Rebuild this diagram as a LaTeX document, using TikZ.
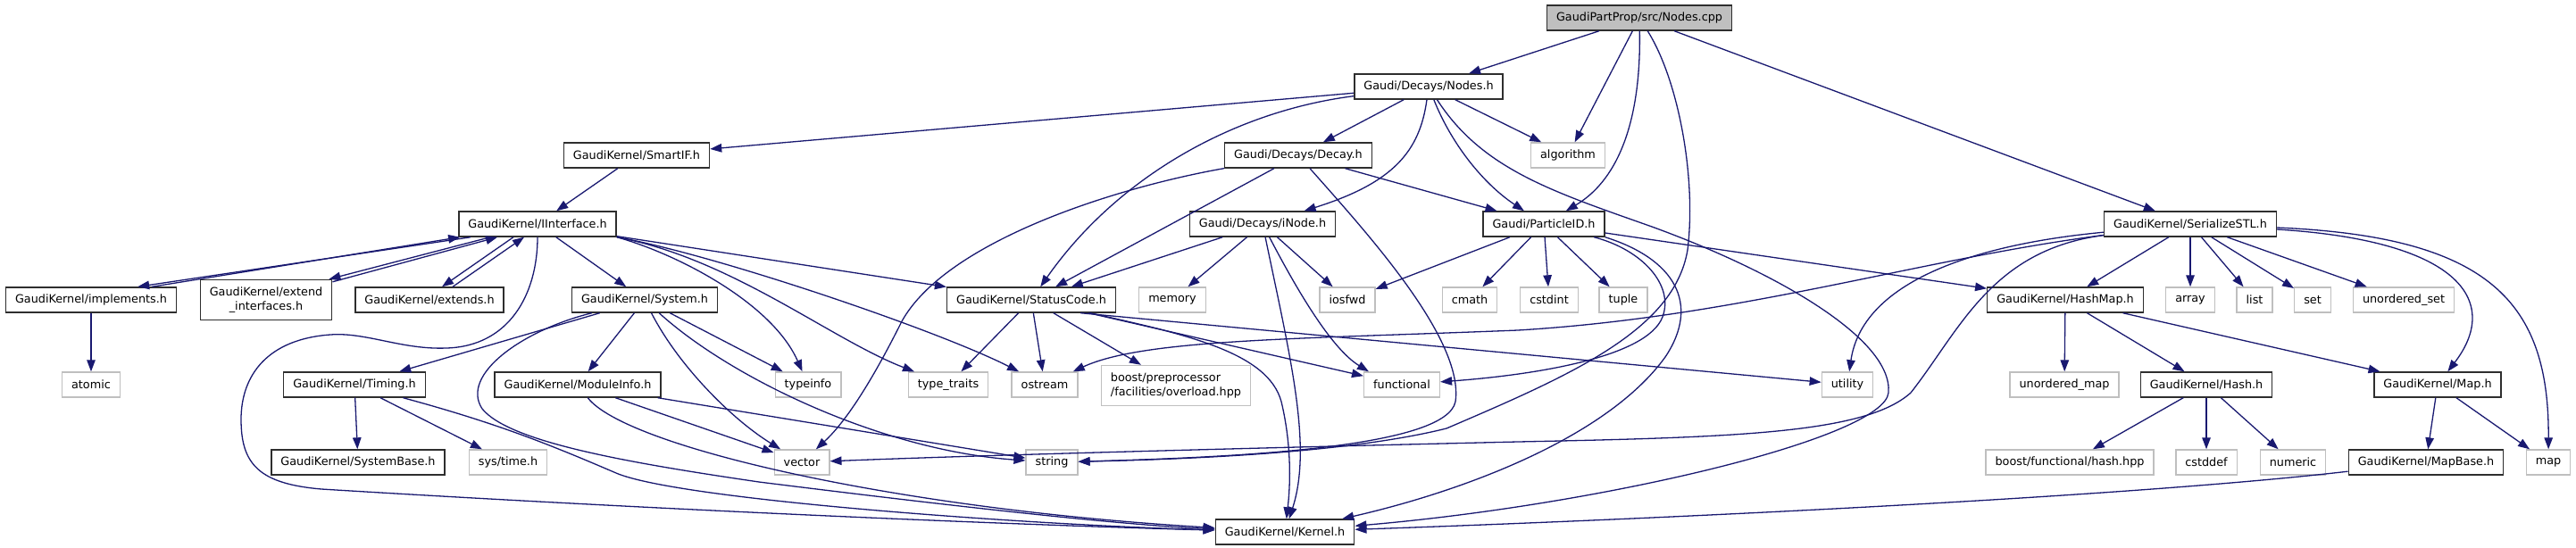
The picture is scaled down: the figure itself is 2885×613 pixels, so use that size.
\documentclass[tikz,border=0pt]{standalone}
\usepackage{fontspec}
\newfontfamily\dv{DejaVu Sans}
\usetikzlibrary{arrows.meta}
\definecolor{edgec}{HTML}{191970}
\definecolor{extc}{HTML}{BFBFBF}
\definecolor{docc}{HTML}{2E2E2E}
\tikzset{
  docbox/.style={draw=docc, line width=1.4pt, fill=white, minimum height=28pt,
    inner xsep=10.5pt, inner ysep=2pt, font={\dv\fontsize{12.8pt}{16.5pt}\selectfont}},
  extbox/.style={docbox, draw=extc},
  rootbox/.style={docbox, fill=extc},
  arr/.style={draw=edgec, line width=1.3pt, -{Triangle[length=13pt,width=9.5pt]}},
}
\begin{document}
\begin{tikzpicture}[x=1pt,y=-1pt]
\useasboundingbox (0,0) rectangle (2885,613);
% ---------------- nodes ----------------
\node[rootbox] (cpp) at (1836,20) {GaudiPartProp/src/Nodes.cpp};
\node[docbox] (nodesh) at (1600,97) {Gaudi/Decays/Nodes.h};
\node[docbox] (smartif) at (713,174) {GaudiKernel/SmartIF.h};
\node[docbox] (decay) at (1454,174) {Gaudi/Decays/Decay.h};
\node[extbox] (algorithm) at (1756,174) {algorithm};
\node[docbox] (iinterface) at (602,251) {GaudiKernel/IInterface.h};
\node[docbox] (inode) at (1414,251) {Gaudi/Decays/iNode.h};
\node[docbox] (particleid) at (1729,251) {Gaudi/ParticleID.h};
\node[docbox] (serialize) at (2453,251) {GaudiKernel/SerializeSTL.h};
\node[docbox] (implements) at (102,336) {GaudiKernel/implements.h};
\node[docbox, align=center, minimum height=45pt] (extendif) at (298,336) {GaudiKernel/extend\\\_interfaces.h};
\node[docbox] (extends) at (481,336) {GaudiKernel/extends.h};
\node[docbox] (system) at (722,336) {GaudiKernel/System.h};
\node[docbox] (statuscode) at (1155,336) {GaudiKernel/StatusCode.h};
\node[extbox] (memory) at (1313,336) {memory};
\node[extbox] (iosfwd) at (1509,336) {iosfwd};
\node[extbox] (cmath) at (1646,336) {cmath};
\node[extbox] (cstdint) at (1735,336) {cstdint};
\node[extbox] (tuple) at (1818,336) {tuple};
\node[docbox] (hashmap) at (2313,336) {GaudiKernel/HashMap.h};
\node[extbox] (array) at (2453,336) {array};
\node[extbox] (list) at (2525,336) {list};
\node[extbox] (set) at (2590,336) {set};
\node[extbox] (unorderedset) at (2692,336) {unordered\_set};
\node[extbox] (atomic) at (102,431) {atomic};
\node[docbox] (timing) at (397,431) {GaudiKernel/Timing.h};
\node[docbox] (moduleinfo) at (647,431) {GaudiKernel/ModuleInfo.h};
\node[extbox] (typeinfo) at (905,431) {typeinfo};
\node[extbox] (typetraits) at (1062,431) {type\_traits};
\node[extbox] (ostream) at (1170,431) {ostream};
\node[extbox, align=left, minimum height=45pt] (boostpp) at (1317,432) {boost/preprocessor\\/facilities/overload.hpp};
\node[extbox] (functional) at (1570,431) {functional};
\node[extbox] (utility) at (2069,431) {utility};
\node[extbox] (unorderedmap) at (2312,431) {unordered\_map};
\node[docbox] (hash) at (2471,431) {GaudiKernel/Hash.h};
\node[docbox] (maph) at (2730,431) {GaudiKernel/Map.h};
\node[docbox] (systembase) at (401,518) {GaudiKernel/SystemBase.h};
\node[extbox] (systime) at (569,518) {sys/time.h};
\node[extbox] (vector) at (898,518) {vector};
\node[extbox] (string) at (1178,518) {string};
\node[extbox] (boostfh) at (2318,518) {boost/functional/hash.hpp};
\node[extbox] (cstddef) at (2471,518) {cstddef};
\node[extbox] (numeric) at (2568,518) {numeric};
\node[docbox] (mapbase) at (2717,518) {GaudiKernel/MapBase.h};
\node[extbox] (map) at (2854,518) {map};
\node[docbox] (kernel) at (1439,596) {GaudiKernel/Kernel.h};
% ---------------- edges ----------------
% Nodes.cpp
\draw[arr] (cpp) -- (nodesh);
\draw[arr] (cpp) -- (algorithm);
\draw[arr] (cpp) .. controls (1838,130) and (1815,200) .. (particleid);
\draw[arr] (cpp) .. controls (1880,90) and (1900,200) .. (1890,280) .. controls (1875,370) and (1760,420) .. (1620,480) .. controls (1500,510) and (1300,515) .. (string);
\draw[arr] (cpp) -- (serialize);
% Nodes.h
\draw[arr] (nodesh) -- (smartif);
\draw[arr] (nodesh) -- (decay);
\draw[arr] (nodesh) .. controls (1590,170) and (1560,205) .. (inode);
\draw[arr] (nodesh) .. controls (1625,160) and (1660,205) .. (particleid);
\draw[arr] (nodesh) -- (algorithm);
\draw[arr] (nodesh) .. controls (1380,125) and (1250,200) .. (statuscode);
\draw[arr] (nodesh) .. controls (1660,190) and (1740,215) .. (1850,254) .. controls (1990,305) and (2120,380) .. (2115,440) .. controls (2110,490) and (1800,565) .. (kernel);
% Decay.h
\draw[arr] (decay) -- (statuscode);
\draw[arr] (decay) -- (particleid);
\draw[arr] (decay) .. controls (1250,210) and (1060,270) .. (1010,360) .. controls (980,420) and (950,470) .. (vector);
\draw[arr] (decay) .. controls (1530,260) and (1640,380) .. (1630,450) .. controls (1620,500) and (1400,512) .. (string);
% SmartIF.h
\draw[arr] (smartif) -- (iinterface);
% IInterface.h
\draw[arr] ([xshift=14pt]iinterface.south west) -- ([xshift=-44pt]implements.north east);
\draw[arr] ([xshift=-28pt]implements.north east) -- ([xshift=2pt]iinterface.south west);
\draw[arr] ([xshift=36pt]iinterface.south west) -- ([xshift=-4pt]extendif.north east);
\draw[arr] ([yshift=-3pt]extendif.north east) -- ([xshift=44pt]iinterface.south west);
\draw[arr] ([xshift=-27pt]iinterface.south) -- ([xshift=14pt]extends.north);
\draw[arr] ([xshift=26pt]extends.north) -- ([xshift=-15pt]iinterface.south);
\draw[arr] (iinterface) -- (system);
\draw[arr] (iinterface) -- (statuscode);
\draw[arr] (iinterface.south east) .. controls (760,285) and (865,340) .. (typeinfo);
\draw[arr] (iinterface.south east) .. controls (820,290) and (930,380) .. (typetraits);
\draw[arr] (iinterface.south east) .. controls (800,285) and (1050,370) .. (ostream);
\draw[arr] (iinterface.south) .. controls (602,330) and (570,388) .. (500,390) .. controls (450,392) and (410,372) .. (370,375) .. controls (300,380) and (270,420) .. (270,470) .. controls (270,520) and (290,542) .. (360,548) .. controls (800,575) and (1200,590) .. (kernel);
% implements.h
\draw[arr] (implements) -- (atomic);
% System.h
\draw[arr] (system) -- (timing);
\draw[arr] (system) -- (moduleinfo);
\draw[arr] (system) -- (typeinfo);
\draw[arr] (system) .. controls (760,410) and (820,470) .. (vector);
\draw[arr] (system) .. controls (820,425) and (990,505) .. (string);
\draw[arr] (system) .. controls (585,370) and (515,420) .. (540,458) .. controls (570,495) and (700,518) .. (850,540) .. controls (1050,565) and (1250,588) .. (kernel);
% ModuleInfo.h
\draw[arr] (moduleinfo) -- (vector);
\draw[arr] (moduleinfo) -- (string);
\draw[arr] (moduleinfo) .. controls (700,500) and (1000,570) .. (kernel);
% Timing.h
\draw[arr] (timing) -- (systembase);
\draw[arr] (timing) -- (systime);
\draw[arr] (timing) .. controls (560,475) and (620,500) .. (690,530) .. controls (760,560) and (1150,588) .. (kernel);
% StatusCode.h
\draw[arr] (statuscode) -- (typetraits);
\draw[arr] (statuscode) -- (ostream);
\draw[arr] (statuscode) -- (boostpp);
\draw[arr] (statuscode) -- (functional);
\draw[arr] ([xshift=-40pt]statuscode.south east) -- (utility);
\draw[arr] (statuscode) .. controls (1330,375) and (1420,395) .. (1435,450) .. controls (1447,500) and (1445,545) .. (kernel);
% iNode.h
\draw[arr] (inode) -- (statuscode);
\draw[arr] (inode) -- (memory);
\draw[arr] (inode) -- (iosfwd);
\draw[arr] (inode) .. controls (1450,320) and (1490,390) .. ([xshift=6pt]functional.north west);
\draw[arr] (inode) .. controls (1445,400) and (1470,500) .. (kernel);
% ParticleID.h
\draw[arr] (particleid) -- (iosfwd);
\draw[arr] (particleid) -- (cmath);
\draw[arr] (particleid) -- (cstdint);
\draw[arr] (particleid) -- (tuple);
\draw[arr] (particleid) -- (hashmap);
\draw[arr] (particleid) .. controls (1840,280) and (1875,320) .. (1862,355) .. controls (1845,400) and (1720,420) .. (functional);
\draw[arr] (particleid.south east) .. controls (1875,290) and (1905,340) .. (1865,400) .. controls (1800,490) and (1640,550) .. (kernel);
% SerializeSTL.h
\draw[arr] (serialize) -- (hashmap);
\draw[arr] (serialize) -- (array);
\draw[arr] (serialize) -- (list);
\draw[arr] (serialize) -- (set);
\draw[arr] (serialize) -- (unorderedset);
\draw[arr] (serialize) .. controls (2760,270) and (2800,340) .. (maph);
\draw[arr] (serialize) .. controls (2790,265) and (2855,340) .. (map);
\draw[arr] (serialize) .. controls (2150,290) and (1950,355) .. (1700,370) .. controls (1450,380) and (1280,380) .. (ostream);
\draw[arr] (serialize) .. controls (2200,275) and (2085,320) .. (utility);
\draw[arr] (serialize) .. controls (2230,280) and (2195,370) .. (2140,440) .. controls (2090,485) and (1950,490) .. (1700,495) .. controls (1400,502) and (1100,510) .. (vector);
% HashMap.h
\draw[arr] (hashmap) -- (unorderedmap);
\draw[arr] (hashmap) -- (hash);
\draw[arr] (hashmap) -- (maph);
% Hash.h
\draw[arr] (hash) -- (boostfh);
\draw[arr] (hash) -- (cstddef);
\draw[arr] (hash) -- (numeric);
% Map.h
\draw[arr] (maph) -- (mapbase);
\draw[arr] (maph) -- (map);
% MapBase.h
\draw[arr] (mapbase) .. controls (2400,555) and (1900,580) .. (kernel);
\end{tikzpicture}
\end{document}
